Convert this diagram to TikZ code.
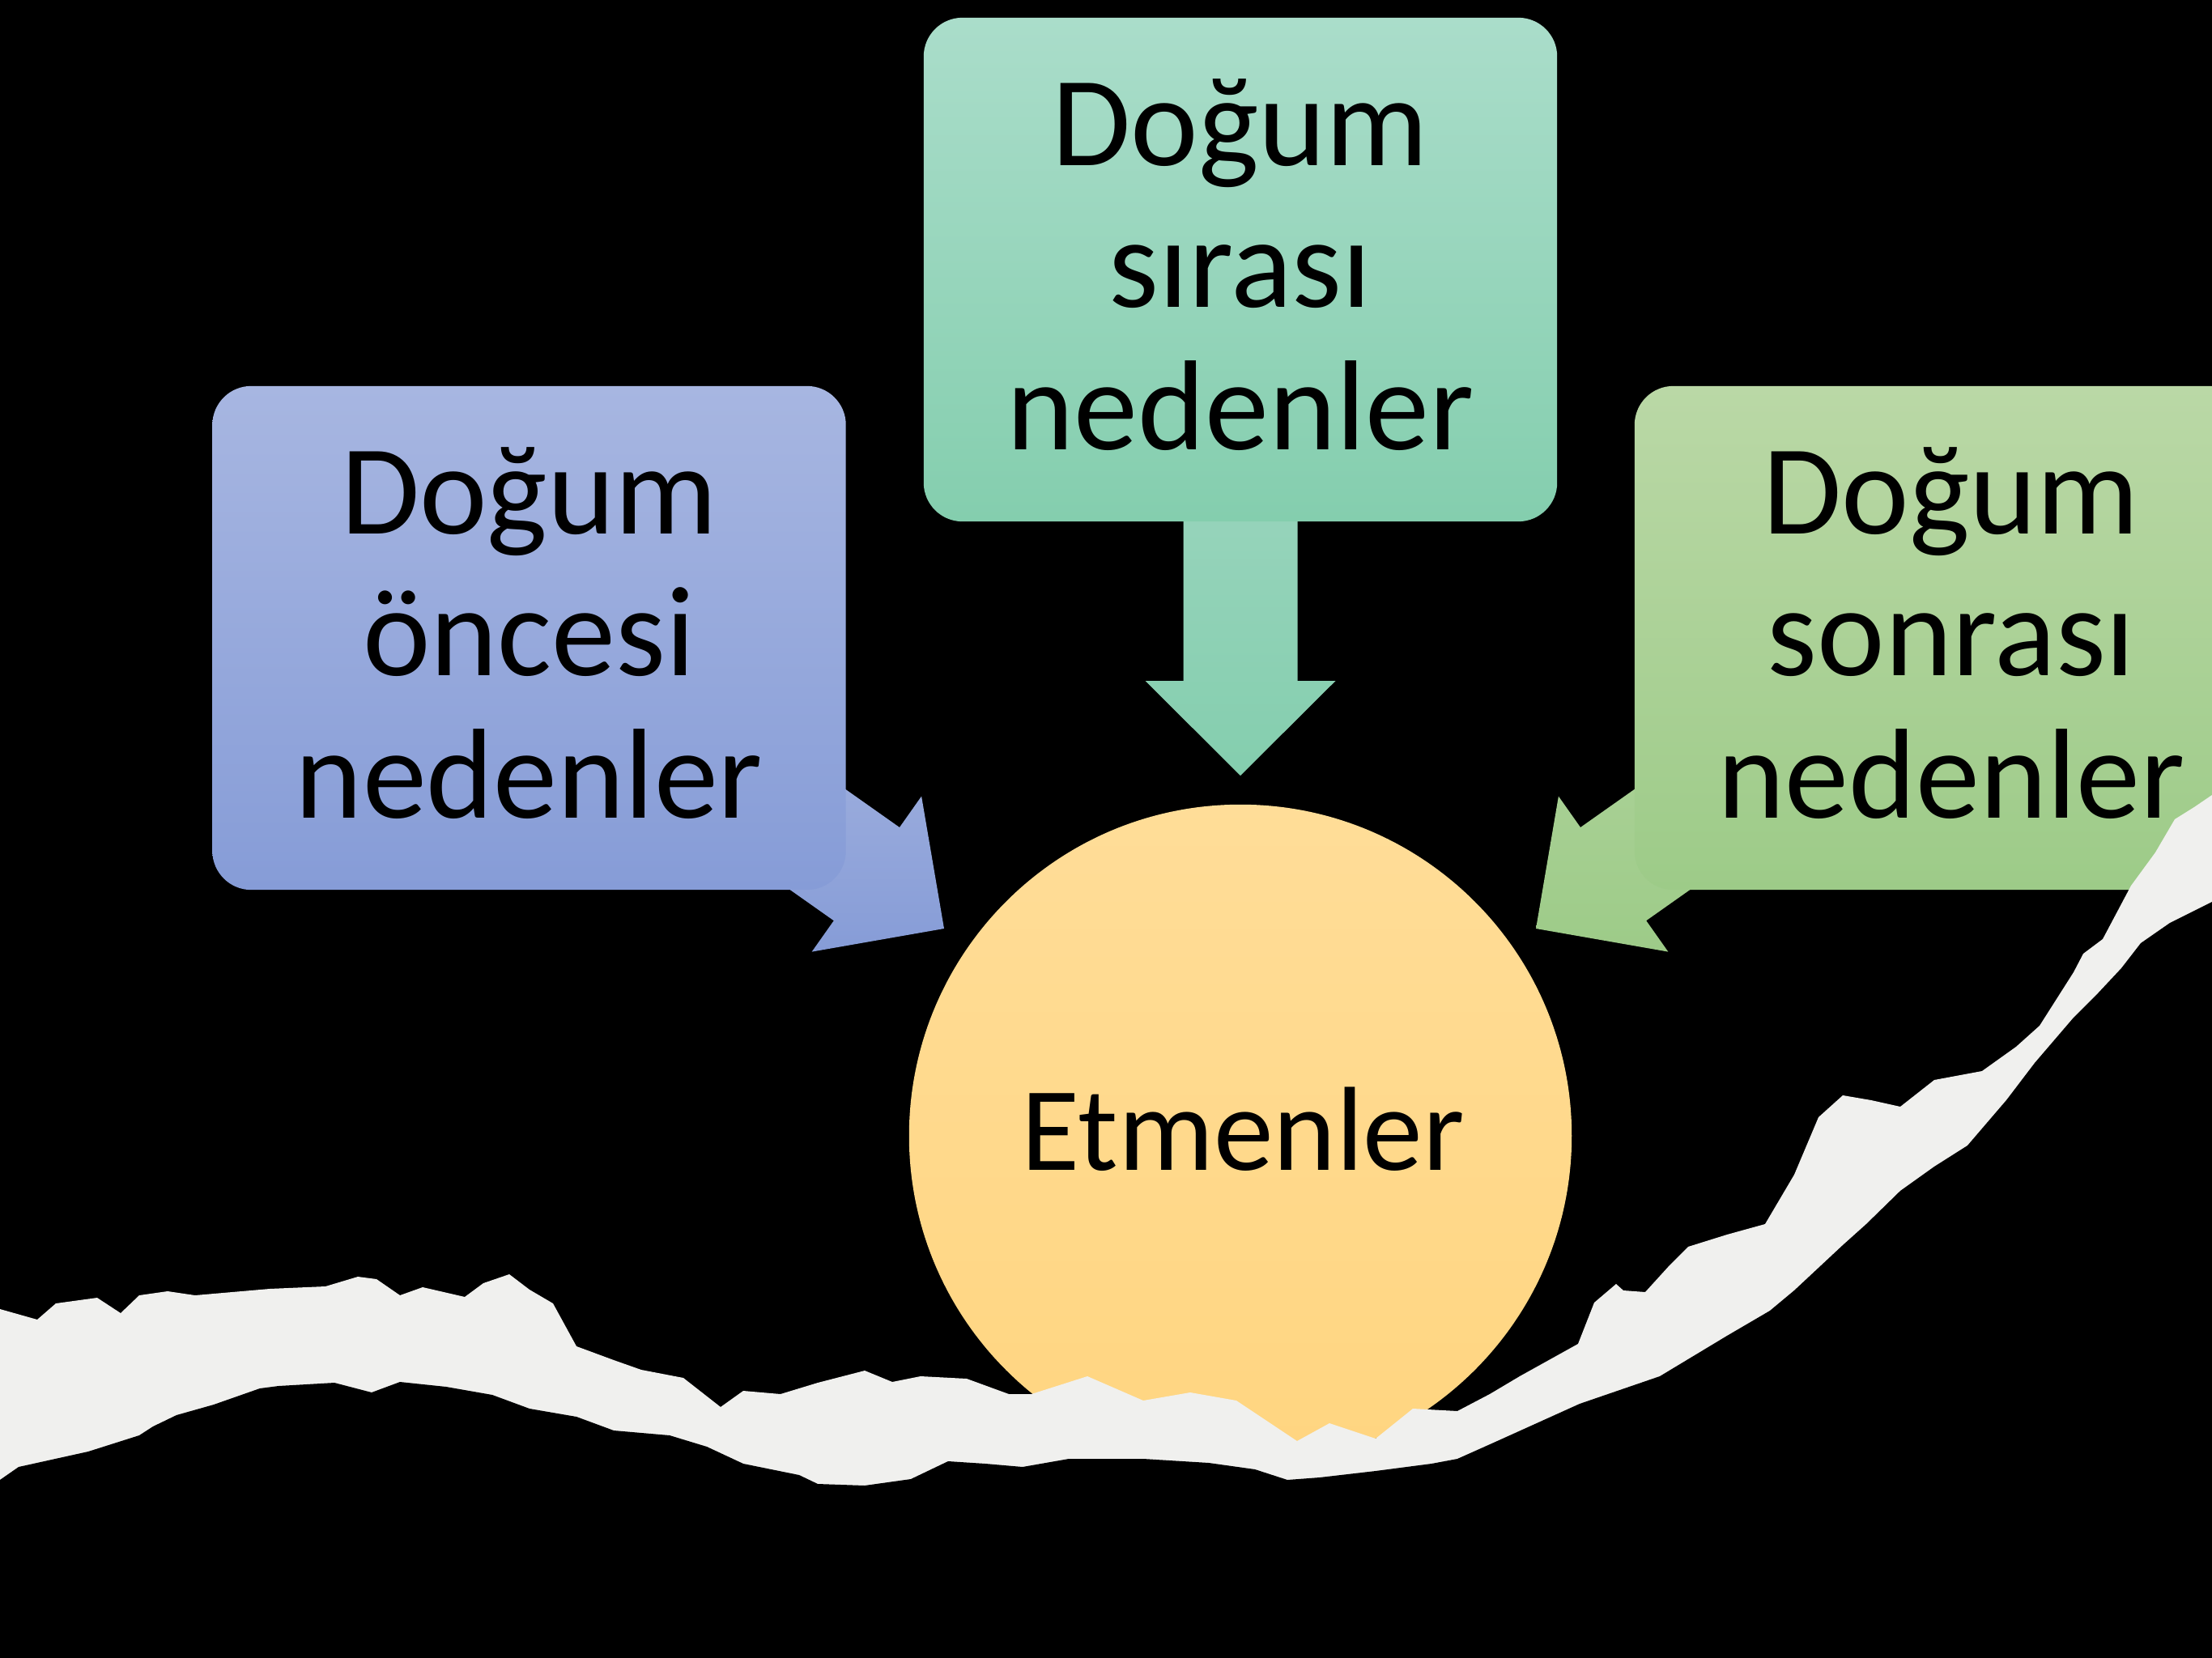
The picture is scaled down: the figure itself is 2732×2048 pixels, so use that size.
\documentclass[tikz,border=0pt]{standalone}
\usepackage{fontspec}
\setmainfont{Carlito}
\definecolor{blueTop}{RGB}{167,182,225}
\definecolor{blueBot}{RGB}{134,156,215}
\definecolor{blueArrTop}{RGB}{160,176,222}
\definecolor{tealTop}{RGB}{170,221,202}
\definecolor{tealBot}{RGB}{132,206,174}
\definecolor{tealArrTop}{RGB}{152,212,188}
\definecolor{greenTop}{RGB}{186,216,166}
\definecolor{greenBot}{RGB}{157,203,136}
\definecolor{greenArrTop}{RGB}{172,210,152}
\definecolor{circTop}{RGB}{255,221,152}
\definecolor{circBot}{RGB}{255,213,128}
\definecolor{paper}{RGB}{240,240,238}
\begin{document}
\begin{tikzpicture}[x=0.01cm,y=-0.01cm,
  causebox/.style={rectangle, rounded corners=0.48cm, minimum width=7.82cm,
    minimum height=6.22cm, inner sep=0pt},
  boxtext/.style={anchor=base, align=center, text=black, inner sep=0pt,
    font=\fontsize{45}{49.8}\selectfont},
  blockarrow/.style={draw=none},
]
\clip (0,0) rectangle (2732,2048);
\fill[black] (0,0) rectangle (2732,2048);

% block arrows (behind the boxes)
\coordinate (tipL) at (1166,1147);
\coordinate (tipM) at (1532,958);
\coordinate (tipR) at (1897,1147);
\shade[blockarrow, top color=blueArrTop, bottom color=blueBot]
  (tipL) -- (1002.7,1175.6) -- (1029.8,1137.2) -- (855.8,1014.4)
  -- (937.0,899.2) -- (1111.0,1022.0) -- (1138.1,983.6) -- cycle;
\shade[blockarrow, top color=greenArrTop, bottom color=greenBot]
  (tipR) -- (2060.3,1175.6) -- (2033.2,1137.2) -- (2207.2,1014.4)
  -- (2126.0,899.2) -- (1952.0,1022.0) -- (1924.9,983.6) -- cycle;
\shade[blockarrow, top color=tealArrTop, bottom color=tealBot]
  (tipM) -- (1414.5,841) -- (1461.5,841) -- (1461.5,600)
  -- (1602.5,600) -- (1602.5,841) -- (1649.5,841) -- cycle;

% boxes
\node[causebox, top color=blueTop, bottom color=blueBot] (pre) at (653.5,788) {};
\node[causebox, top color=tealTop, bottom color=tealBot] (during) at (1532,333) {};
\node[causebox, top color=greenTop, bottom color=greenBot] (post) at (2410,788) {};

% anchor=base of a multi-line node is the baseline of its last line
\node[boxtext] (pretext) at (653.5,1010) {Doğum\\öncesi\\nedenler};
\node[boxtext] (duringtext) at (1532,555) {Doğum\\sırası\\nedenler};
\node[boxtext] (posttext) at (2410,1010) {Doğum\\sonrası\\nedenler};

% circle
\node[circle, minimum size=8.18cm, inner sep=0pt, top color=circTop, bottom color=circBot] (etm) at (1532,1403) {};
\node[anchor=base, inner sep=0pt, text=black, font=\fontsize{42}{48}\selectfont] (etmtext) at (1535,1445) {Etmenler};

% torn paper strip
\fill[paper] (0,1617) -- (46,1630) -- (69,1610) -- (120,1603) -- (149,1622) -- (172,1600)
  -- (207,1595) -- (241,1600) -- (333,1592) -- (402,1589) -- (442,1577) -- (465,1580)
  -- (494,1600) -- (522,1590) -- (574,1602) -- (597,1585) -- (629,1574) -- (654,1593)
  -- (683,1610) -- (712,1663) -- (758,1680) -- (792,1692) -- (844,1702) -- (890,1738)
  -- (918,1718) -- (964,1722) -- (1010,1708) -- (1068,1693) -- (1102,1707) -- (1137,1700)
  -- (1194,1703) -- (1246,1722) -- (1274,1722) -- (1343,1700) -- (1412,1730) -- (1470,1720)
  -- (1527,1730) -- (1602,1780) -- (1642,1758) -- (1699,1777) -- (1745,1740) -- (1800,1743)
  -- (1840,1722) -- (1877,1700) -- (1949,1660) -- (1969,1609) -- (1996,1586) -- (2005,1594)
  -- (2032,1596) -- (2062,1563) -- (2085,1540) -- (2133,1525) -- (2180,1512) -- (2216,1451)
  -- (2246,1380) -- (2276,1353) -- (2311,1359) -- (2347,1367) -- (2389,1334) -- (2448,1323)
  -- (2490,1293) -- (2519,1267) -- (2561,1201) -- (2573,1178) -- (2597,1160) -- (2632,1094)
  -- (2662,1053) -- (2686,1012) -- (2710,997) -- (2732,982) -- (2732,2048) -- (0,2048) -- cycle;
\fill[black] (0,1828) -- (23,1812) -- (109,1793) -- (172,1773) -- (189,1762) -- (218,1748)
  -- (264,1735) -- (321,1715) -- (344,1712) -- (413,1708) -- (459,1720) -- (494,1707)
  -- (551,1713) -- (608,1723) -- (654,1740) -- (712,1750) -- (758,1767) -- (827,1773)
  -- (873,1787) -- (918,1808) -- (987,1822) -- (1010,1833) -- (1068,1835) -- (1125,1827)
  -- (1171,1805) -- (1217,1808) -- (1263,1812) -- (1320,1802) -- (1412,1802) -- (1493,1807)
  -- (1550,1815) -- (1590,1828) -- (1630,1825) -- (1699,1817) -- (1768,1808) -- (1800,1802)
  -- (1847,1781) -- (1951,1734) -- (2050,1700) -- (2133,1650) -- (2186,1619) -- (2216,1594)
  -- (2276,1538) -- (2305,1512) -- (2347,1471) -- (2389,1441) -- (2430,1415) -- (2478,1359)
  -- (2513,1313) -- (2561,1257) -- (2591,1227) -- (2620,1196) -- (2644,1165) -- (2680,1140)
  -- (2732,1114) -- (2732,2048) -- (0,2048) -- cycle;
\end{tikzpicture}
\end{document}
